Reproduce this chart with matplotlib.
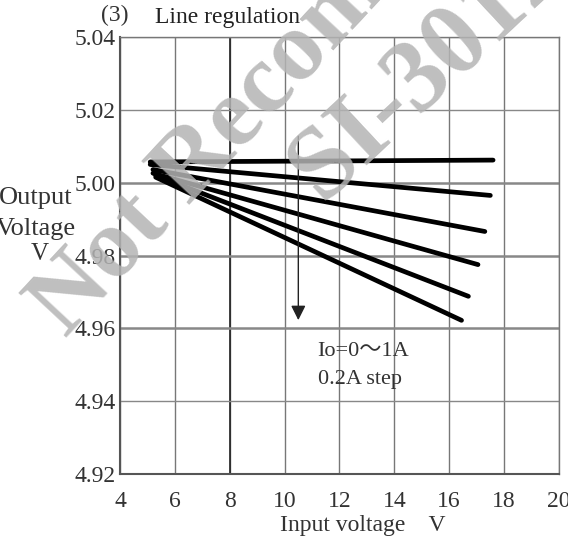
import numpy as np
import matplotlib
matplotlib.use("Agg")
import matplotlib.pyplot as plt

plt.rcParams['font.family'] = ['Liberation Serif', 'DejaVu Serif']

# 出力電流ごとの入力電圧-出力電圧 (両端点を読み取り)
io_values = [0.0, 0.2, 0.4, 0.6, 0.8, 1.0]
vin_start = [5.1, 5.1, 5.2, 5.2, 5.3, 5.3]
vin_end = [17.6, 17.5, 17.3, 17.05, 16.7, 16.45]
vout_start = [5.0057, 5.0050, 5.0036, 5.0026, 5.0020, 5.0015]
vout_end = [5.0062, 4.9965, 4.9866, 4.9775, 4.9688, 4.9622]

x_ticks = [4, 6, 8, 10, 12, 14, 16, 18, 20]
y_ticks = [4.92, 4.94, 4.96, 4.98, 5.00, 5.02, 5.04]

fs = 17

fig = plt.figure(figsize=(5.68, 5.41), dpi=100)
ax = fig.add_axes([0.2113, 0.1238, 0.7727, 0.8078])

ax.set_xlim(4, 20)
ax.set_ylim(4.92, 5.04)
ax.set_xticks(x_ticks)
ax.set_yticks(y_ticks)
ax.set_xticklabels([str(t) for t in x_ticks])
ax.set_yticklabels(["%.2f" % t for t in y_ticks])
ax.tick_params(length=0, labelsize=fs, labelcolor='#333333')
ax.tick_params(axis='x', pad=12)
ax.tick_params(axis='y', pad=3)

# グリッド
for xv in x_ticks:
    ax.axvline(xv, color='#777777', lw=1.0, zorder=1)
ax.axvline(8, color='#222222', lw=1.2, zorder=1)
for yv in y_ticks:
    w = 1.8 if yv in (5.00, 4.98, 4.96) else 1.0
    ax.axhline(yv, color='#888888', lw=w, zorder=1)
for s in ax.spines.values():
    s.set_color('#777777')
    s.set_linewidth(1.0)
ax.spines['left'].set_color('#555555')
ax.spines['left'].set_linewidth(1.5)
ax.spines['bottom'].set_color('#555555')
ax.spines['bottom'].set_linewidth(1.5)

for i in range(len(io_values)):
    ax.plot([vin_start[i], vin_end[i]], [vout_start[i], vout_end[i]],
            color='black', lw=3.4, solid_capstyle='round', zorder=4)

# 矢印
ax.annotate("", xy=(10.5, 4.9615), xytext=(10.5, 5.0135),
            arrowprops=dict(arrowstyle='-|>', color='#222222', lw=1.0,
                            mutation_scale=22), zorder=5)

ax.text(11.2, 4.9537, "Io=0～1A", fontsize=fs - 1, color='#333333', va='center',
        family=['Liberation Serif', 'Noto Sans CJK JP'])
ax.text(11.2, 4.9460, "0.2A step", fontsize=fs - 1, color='#333333', va='center')

fig.text(115 / 568, 1 - 15 / 541, "(3)", fontsize=fs, color='#333333', ha='center', va='center')
fig.text(155 / 568, 1 - 18 / 541, "Line regulation", fontsize=fs, color='#222222', ha='left', va='center')

fig.text(73 / 568, 1 - 198 / 541, "Output", fontsize=fs + 2, color='#333333', ha='right', va='center')
fig.text(76 / 568, 1 - 229 / 541, "Voltage", fontsize=fs + 2, color='#333333', ha='right', va='center')
fig.text(40 / 568, 1 - 254 / 541, "V", fontsize=fs + 1, color='#333333', ha='center', va='center')

fig.text(363 / 568, 1 - 526 / 541, "Input voltage    V", fontsize=fs, color='#333333',
         ha='center', va='center')

# 透かし (画像端で切れている)
fig.text(65 / 568, 1 - 338 / 541, "Not Recom", rotation=47, rotation_mode='anchor',
         fontsize=72, fontweight='bold', color='#b4b4b4', alpha=0.85,
         ha='left', va='baseline', zorder=6)
fig.text(322 / 568, 1 - 202 / 541, "SI-301Z", rotation=43, rotation_mode='anchor',
         fontsize=74, fontweight='bold', color='#b4b4b4', alpha=0.85,
         ha='left', va='baseline', zorder=6)

fig.savefig("out.png", dpi=100)
